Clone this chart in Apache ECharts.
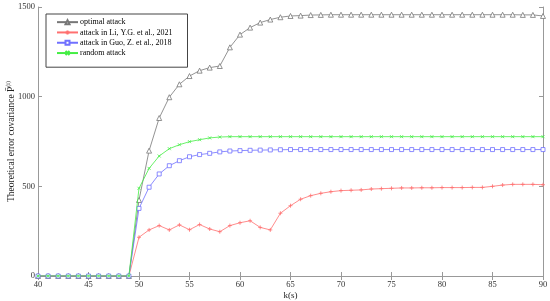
<!DOCTYPE html>
<html>
<head>
<meta charset="utf-8">
<script src="https://cdn.jsdelivr.net/npm/echarts@6/dist/echarts.min.js"></script>
<style>
  html, body { margin: 0; padding: 0; background: #fff; }
  #main { width: 550px; height: 301px; }
</style>
</head>
<body>
<div id="main"></div>
<script>
// k(s) from 40 to 90
var steps = [];
for (var k = 40; k <= 90; k++) steps.push(k);

var optimalAttack = [0, 0, 0, 0, 0, 0, 0, 0, 0, 0,
    424, 699, 881, 997, 1069, 1115, 1145, 1162, 1171, 1275,
    1346, 1385, 1413, 1430, 1443, 1450, 1452, 1455, 1456, 1457,
    1457, 1457, 1457, 1457, 1457, 1457, 1457, 1457, 1457, 1457,
    1457, 1457, 1457, 1457, 1457, 1457, 1457, 1457, 1456, 1456, 1450];

var liAttack = [0, 0, 0, 0, 0, 0, 0, 0, 0, 0,
    216, 257, 281, 257, 285, 258, 287, 262, 247, 281,
    297, 308, 271, 257, 350, 392, 428, 448, 461, 470,
    476, 478, 480, 485, 487, 489, 491, 491, 492, 492,
    493, 493, 493, 494, 494, 500, 507, 511, 511, 511, 509];

var guoAttack = [0, 0, 0, 0, 0, 0, 0, 0, 0, 0,
    377, 495, 569, 615, 643, 665, 677, 684, 692, 697,
    699, 701, 702, 703, 704, 705, 705, 705, 705, 705,
    705, 705, 705, 705, 705, 705, 705, 705, 705, 705,
    705, 705, 705, 705, 705, 705, 705, 705, 705, 705, 705];

var randomAttack = [0, 0, 0, 0, 0, 0, 0, 0, 0, 0,
    489, 600, 669, 710, 732, 749, 760, 770, 775, 777,
    777, 777, 777, 777, 777, 777, 777, 777, 777, 777,
    777, 777, 777, 777, 777, 777, 777, 777, 777, 777,
    777, 777, 777, 777, 777, 777, 777, 777, 777, 777, 777];

var seriesNames = ['optimal attack', 'attack in Li, Y.G. et al., 2021',
    'attack in Guo, Z. et al., 2018', 'random attack'];

function pairs(arr) {
    return arr.map(function (v, i) { return [steps[i], v]; });
}

var font = 'Times New Roman';
var plusSymbol = 'path://M5,0L5,10M0,5L10,5';
var crossSymbol = 'path://M0,0L10,10M10,0L0,10';
var plain = function (v) { return String(v); };

var chart = echarts.init(document.getElementById('main'));

var option = {
    backgroundColor: '#fff',
    animation: false,
    textStyle: { fontFamily: font },
    grid: { left: 38, right: 7, top: 7, bottom: 25, outerBoundsMode: 'none', containLabel: false },
    legend: {
        orient: 'vertical',
        left: 46,
        top: 14,
        padding: [3, 15, 9, 10],
        itemGap: 0,
        itemWidth: 21,
        itemHeight: 5,
        borderColor: '#444',
        borderWidth: 1,
        backgroundColor: '#fff',
        textStyle: { fontFamily: font, fontSize: 8, lineHeight: 10.3, color: '#000', padding: [0, 0, 0, -3] },
        data: seriesNames
    },
    xAxis: [{
        type: 'value',
        min: 40, max: 90, interval: 5,
        name: 'k(s)',
        nameLocation: 'middle',
        nameGap: 15,
        nameMoveOverlap: false,
        nameTextStyle: { fontFamily: font, fontSize: 9, color: '#222' },
        axisLine: { lineStyle: { color: '#999' } },
        axisTick: { inside: true, length: 4, lineStyle: { color: '#999' } },
        axisLabel: { fontFamily: font, fontSize: 8.5, color: '#333', margin: 4, formatter: plain },
        splitLine: { show: false }
    }, {
        type: 'value',
        position: 'top',
        min: 40, max: 90, interval: 5,
        axisLine: { show: true, lineStyle: { color: '#999' } },
        axisTick: { show: true, inside: true, length: 4, lineStyle: { color: '#999' } },
        axisLabel: { show: false },
        splitLine: { show: false }
    }],
    yAxis: [{
        type: 'value',
        min: 0, max: 1500, interval: 500,
        name: '{a|Theoretical error covariance }{b|P̄}{c|(i)}',
        nameLocation: 'middle',
        nameGap: 21,
        nameMoveOverlap: false,
        nameTextStyle: {
            fontFamily: font, fontSize: 9.5, color: '#222',
            rich: {
                a: { fontFamily: font, fontSize: 9.5, color: '#222' },
                b: { fontFamily: font, fontSize: 9.5, color: '#222' },
                c: { fontFamily: font, fontSize: 6, color: '#222', verticalAlign: 'top', padding: [0, 0, 6, 0] }
            }
        },
        axisLine: { show: true, lineStyle: { color: '#999' } },
        axisTick: { show: true, inside: true, length: 4, lineStyle: { color: '#999' } },
        axisLabel: { fontFamily: font, fontSize: 8.5, color: '#333', margin: 3, formatter: plain },
        splitLine: { show: false }
    }, {
        type: 'value',
        position: 'right',
        min: 0, max: 1500, interval: 500,
        axisLine: { show: true, lineStyle: { color: '#999' } },
        axisTick: { show: true, inside: true, length: 4, lineStyle: { color: '#999' } },
        axisLabel: { show: false },
        splitLine: { show: false }
    }],
    series: [{
        name: seriesNames[0],
        type: 'line',
        data: pairs(optimalAttack),
        symbol: 'triangle',
        symbolSize: 5,
        lineStyle: { color: '#777', width: 0.8 },
        itemStyle: { color: '#fff', borderColor: '#777', borderWidth: 0.8 },
        emphasis: { disabled: true },
        z: 2
    }, {
        name: seriesNames[1],
        type: 'line',
        data: pairs(liAttack),
        symbol: plusSymbol,
        symbolSize: 4,
        lineStyle: { color: '#ff7070', width: 0.8 },
        itemStyle: { color: '#ff7070', borderColor: '#ff7070', borderWidth: 0.8 },
        emphasis: { disabled: true },
        z: 3
    }, {
        name: seriesNames[2],
        type: 'line',
        data: pairs(guoAttack),
        symbol: 'rect',
        symbolSize: 4,
        lineStyle: { color: '#7070ff', width: 0.8 },
        itemStyle: { color: '#fff', borderColor: '#7070ff', borderWidth: 0.8 },
        emphasis: { disabled: true },
        z: 4
    }, {
        name: seriesNames[3],
        type: 'line',
        data: pairs(randomAttack),
        symbol: crossSymbol,
        symbolSize: 3,
        lineStyle: { color: '#44ee44', width: 0.8 },
        itemStyle: { color: '#44ee44', borderColor: '#44ee44', borderWidth: 0.8 },
        emphasis: { disabled: true },
        z: 5
    }]
};

chart.setOption(option);
</script>
</body>
</html>
